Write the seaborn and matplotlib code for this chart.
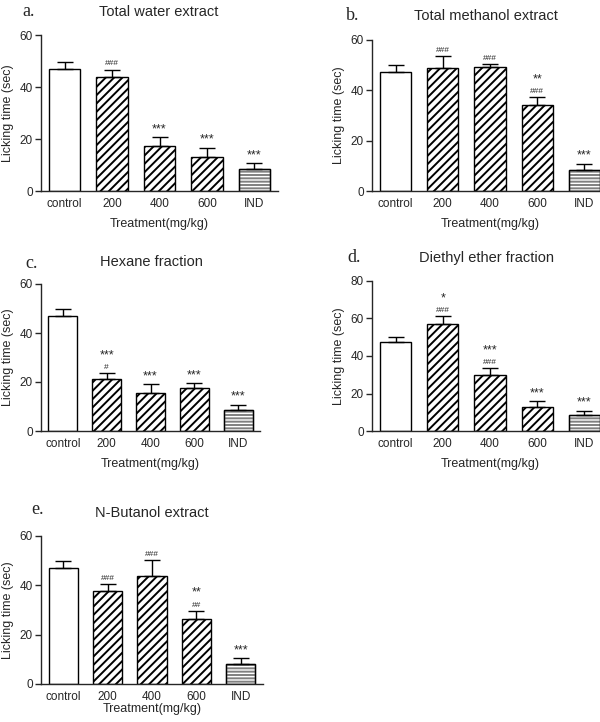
import numpy as np
import pandas as pd
import matplotlib
matplotlib.use("Agg")
import matplotlib.pyplot as plt
import matplotlib.patches as mpatches
import seaborn as sns

# dados
categories = ["control", "200", "400", "600", "IND"]

water_mean = [46.9, 43.7, 17.2, 12.9, 8.3]
water_sem = [2.8, 3.0, 3.4, 3.8, 2.3]
water_stars = ["", "", "***", "***", "***"]
water_hash = ["", "###", "", "", ""]

methanol_mean = [47.3, 48.7, 49.1, 34.1, 8.5]
methanol_sem = [2.7, 5.1, 1.3, 3.2, 2.3]
methanol_stars = ["", "", "", "**", "***"]
methanol_hash = ["", "###", "###", "###", ""]

hexane_mean = [47.0, 21.4, 15.5, 17.4, 8.4]
hexane_sem = [2.8, 2.1, 3.5, 2.0, 2.3]
hexane_stars = ["", "***", "***", "***", "***"]
hexane_hash = ["", "#", "", "", ""]

ether_mean = [47.3, 57.1, 29.9, 13.0, 8.5]
ether_sem = [2.8, 4.2, 3.5, 2.8, 2.2]
ether_stars = ["", "*", "***", "***", "***"]
ether_hash = ["", "###", "###", "", ""]

butanol_mean = [47.1, 37.7, 43.6, 26.4, 8.3]
butanol_sem = [2.8, 2.7, 6.8, 3.3, 2.2]
butanol_stars = ["", "", "", "**", "***"]
butanol_hash = ["", "###", "###", "##", ""]

hatches = ["", "////", "////", "////", "-----"]

sns.set_style("ticks")
plt.rcParams["font.family"] = ["Liberation Sans", "DejaVu Sans"]
plt.rcParams["hatch.linewidth"] = 1.4
plt.rcParams["axes.linewidth"] = 1.0

W, H = 600, 722
fig = plt.figure(figsize=(W / 100, H / 100), dpi=100)


def box(x0, x1, ytop, ybot):
    return [x0 / W, 1 - ybot / H, (x1 - x0) / W, (ybot - ytop) / H]


def painel(rect, mean, sem, stars, hashes, ymax, ystep, letra, titulo, lpos, tpos, xpad=6):
    ax = fig.add_axes(rect)
    df = pd.DataFrame({"grupo": categories, "valor": mean})
    sns.barplot(data=df, x="grupo", y="valor", color="white", saturation=1,
                edgecolor="black", linewidth=1.0, width=0.66, ax=ax)
    for p, h in list(zip(ax.patches, hatches)):
        p.set_hatch(h)
        if h.startswith("-"):
            # listras horizontais mais finas/cinzas, contorno preto por cima
            p.set_edgecolor("0.5")
            contorno = mpatches.Rectangle(p.get_xy(), p.get_width(), p.get_height(),
                                          fill=False, edgecolor="black", linewidth=1.0,
                                          zorder=p.get_zorder() + 0.1)
            ax.add_patch(contorno)
    x = np.arange(len(categories))
    ax.errorbar(x, mean, yerr=[np.zeros(len(sem)), sem], fmt="none",
                ecolor="black", elinewidth=1.0, capsize=5.5, capthick=1.0)
    for xi, m, s, st, hs in zip(x, mean, sem, stars, hashes):
        off = 1.5
        if hs:
            ax.annotate(hs, (xi, m + s), xytext=(0, off), textcoords="offset points",
                        ha="center", va="bottom", fontsize=6)
            off += 7
        if st:
            ax.annotate(st, (xi, m + s), xytext=(0, off), textcoords="offset points",
                        ha="center", va="bottom", fontsize=9)
    ax.set_xlim(-0.5, 4.5)
    ax.set_ylim(0, ymax)
    ax.set_yticks(np.arange(0, ymax + 1, ystep))
    ax.tick_params(axis="y", length=4, width=1, pad=2, labelsize=8.5)
    ax.tick_params(axis="x", length=0, pad=5, labelsize=8.5)
    ax.set_xlabel("Treatment(mg/kg)", fontsize=9, labelpad=xpad)
    ax.set_ylabel("Licking time (sec)", fontsize=9, labelpad=4)
    sns.despine(ax=ax)
    fig.text(lpos[0] / W, 1 - lpos[1] / H, letra, family="Liberation Serif",
             fontsize=13, ha="center", va="center")
    fig.text(tpos[0] / W, 1 - tpos[1] / H, titulo, fontsize=10.5,
             ha="center", va="center")
    return ax


painel(box(41, 278, 35, 191), water_mean, water_sem, water_stars, water_hash,
       60, 20, "a.", "Total water extract", (29, 12), (159, 12))
painel(box(372, 608, 40, 191), methanol_mean, methanol_sem, methanol_stars, methanol_hash,
       60, 20, "b.", "Total methanol extract", (353, 16), (486, 16))
painel(box(41, 260, 284, 431), hexane_mean, hexane_sem, hexane_stars, hexane_hash,
       60, 20, "c.", "Hexane fraction", (32, 263), (151, 262))
painel(box(372, 608, 281, 431), ether_mean, ether_sem, ether_stars, ether_hash,
       80, 20, "d.", "Diethyl ether fraction", (354, 258), (486, 258))
painel(box(41, 263, 536, 684), butanol_mean, butanol_sem, butanol_stars, butanol_hash,
       60, 20, "e.", "N-Butanol extract", (38, 510), (152, 513), xpad=0)

fig.savefig("out.png", dpi=100)
